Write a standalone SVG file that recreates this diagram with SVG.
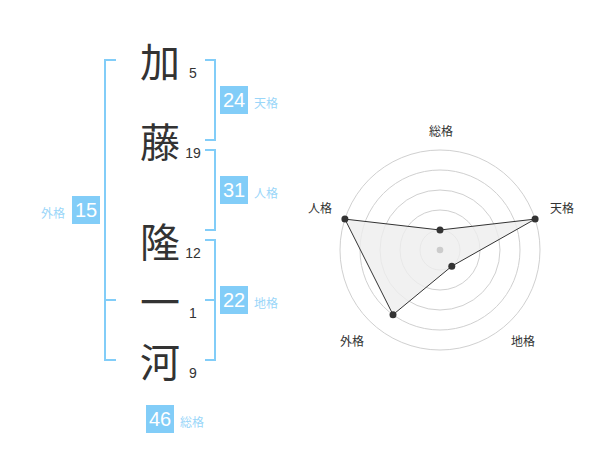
<svg xmlns="http://www.w3.org/2000/svg" width="600" height="470" viewBox="0 0 600 470">
<style>
.ch{font-family:"Noto Sans CJK JP","Noto Sans CJK SC",sans-serif;font-size:40px;fill:#333;text-anchor:middle;dominant-baseline:central}
.num{font-family:"Liberation Sans",Arial,sans-serif;font-size:14px;fill:#333;text-anchor:middle}
.br{fill:none;stroke:#82cdf8;stroke-width:2}
.box{fill:#82cdf8}
.bn{font-family:"Liberation Sans",Arial,sans-serif;font-size:20px;fill:#fff;text-anchor:middle}
.bl{font-family:"Liberation Sans","Noto Sans CJK JP",sans-serif;font-size:12px;fill:#9ad6f9}
.rl{font-family:"Liberation Sans","Noto Sans CJK JP",sans-serif;font-size:12px;fill:#333;text-anchor:middle}
.ring{fill:none;stroke:#d0d0d0;stroke-width:1}
.pt{fill:#333}
</style>
<rect width="600" height="470" fill="#fff"/>
<g id="connectors">
<path class="br" d="M205,60H215V140H205"/>
<path class="br" d="M205,150H215V230H205"/>
<path class="br" d="M205,240H215V360H205M205,300H215"/>
<path class="br" d="M116,60H105V360H116M105,300H116"/>
</g>
<g id="char-1"><text class="ch" x="160" y="60">加</text><text class="num" x="193" y="78">5</text></g>
<g id="char-2"><text class="ch" x="160" y="140">藤</text><text class="num" x="193" y="158">19</text></g>
<g id="char-3"><text class="ch" x="160" y="240">隆</text><text class="num" x="193" y="258">12</text></g>
<g id="char-4"><text class="ch" x="160" y="300">一</text><text class="num" x="193" y="318">1</text></g>
<g id="char-5"><text class="ch" x="160" y="360">河</text><text class="num" x="193" y="378">9</text></g>
<g id="tenkaku"><rect class="box" x="220" y="86" width="28" height="28"/><text class="bn" x="234" y="107">24</text><text class="bl" x="254" y="108">天格</text></g>
<g id="jinkaku"><rect class="box" x="220" y="176" width="28" height="28"/><text class="bn" x="234" y="197">31</text><text class="bl" x="254" y="198">人格</text></g>
<g id="chikaku"><rect class="box" x="220" y="286" width="28" height="28"/><text class="bn" x="234" y="307">22</text><text class="bl" x="254" y="308">地格</text></g>
<g id="gaikaku"><rect class="box" x="72" y="196" width="28" height="28"/><text class="bn" x="86" y="217">15</text><text class="bl" x="65" y="218" text-anchor="end">外格</text></g>
<g id="soukaku"><rect class="box" x="146" y="405" width="28" height="28"/><text class="bn" x="160" y="426">46</text><text class="bl" x="180" y="427">総格</text></g>
<g id="radar">
<circle class="ring" cx="440" cy="250" r="20"/>
<circle class="ring" cx="440" cy="250" r="40"/>
<circle class="ring" cx="440" cy="250" r="60"/>
<circle class="ring" cx="440" cy="250" r="80"/>
<circle class="ring" cx="440" cy="250" r="100"/>
<polygon points="440,230 535.1,219.1 451.8,266.2 393,314.7 344.9,219.1" fill="#eee" fill-opacity="0.8" stroke="#333" stroke-width="1"/>
<circle cx="440" cy="250" r="3.3" fill="#ccc"/>
<circle class="pt" cx="440" cy="230" r="3.5"/>
<circle class="pt" cx="535.1" cy="219.1" r="3.5"/>
<circle class="pt" cx="451.8" cy="266.2" r="3.5"/>
<circle class="pt" cx="393" cy="314.7" r="3.5"/>
<circle class="pt" cx="344.9" cy="219.1" r="3.5"/>
<text class="rl" x="441" y="136">総格</text>
<text class="rl" x="562" y="213">天格</text>
<text class="rl" x="320" y="213">人格</text>
<text class="rl" x="352" y="346">外格</text>
<text class="rl" x="523" y="346">地格</text>
</g>
</svg>
